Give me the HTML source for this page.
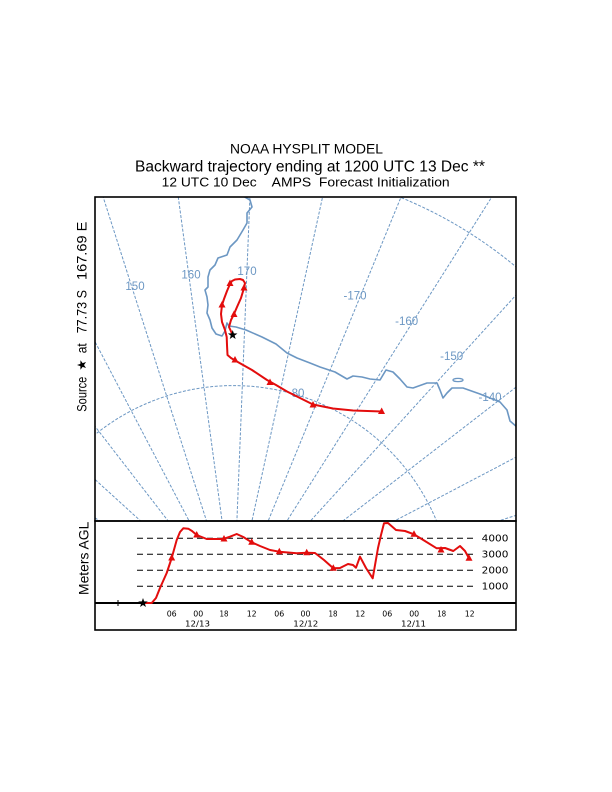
<!DOCTYPE html>
<html>
<head>
<meta charset="utf-8">
<style>
html,body{margin:0;padding:0;background:#fff;width:612px;height:792px;overflow:hidden;}
svg{display:block;position:absolute;left:0;top:0;}
.s{font-family:"Liberation Sans", Arial, sans-serif;}
.d{font-family:"DejaVu Sans", "Liberation Sans", sans-serif;}
</style>
</head>
<body>
<svg width="612" height="792" viewBox="0 0 612 792" xmlns="http://www.w3.org/2000/svg">
<rect x="0" y="0" width="612" height="792" fill="#fff"/>

<!-- Titles -->
<g class="s" fill="#000">
  <text x="230" y="153.3" font-size="13.5" textLength="153" lengthAdjust="spacingAndGlyphs">NOAA HYSPLIT MODEL</text>
  <text x="135" y="171.3" font-size="15.5" textLength="350" lengthAdjust="spacingAndGlyphs">Backward trajectory ending at 1200 UTC 13 Dec **</text>
  <text x="161.7" y="186.7" font-size="13.2" textLength="95" lengthAdjust="spacingAndGlyphs">12 UTC 10 Dec</text>
  <text x="271.7" y="186.7" font-size="13.2" textLength="178" lengthAdjust="spacingAndGlyphs" xml:space="preserve">AMPS  Forecast Initialization</text>
</g>

<!-- Left vertical labels -->
<g class="s" fill="#000" font-size="13.5">
  <g transform="translate(86.7,0) rotate(-90)">
    <text x="-411.7" y="0" textLength="35" lengthAdjust="spacingAndGlyphs">Source</text>
    <text x="-353.3" y="0" textLength="10" lengthAdjust="spacingAndGlyphs">at</text>
    <text x="-333.3" y="0" textLength="43.3" lengthAdjust="spacingAndGlyphs">77.73 S</text>
    <text x="-280" y="0" textLength="58.3" lengthAdjust="spacingAndGlyphs">167.69 E</text>
  </g>
  <g transform="translate(88.3,0) rotate(-90)">
    <text x="-595" y="0" textLength="73.3" lengthAdjust="spacingAndGlyphs">Meters AGL</text>
  </g>
</g>
<polygon transform="translate(82,365) rotate(-90)" fill="#000" points="0,-5 1.176,-1.618 4.755,-1.545 1.902,0.618 2.939,4.045 0,2 -2.939,4.045 -1.902,0.618 -4.755,-1.545 -1.176,-1.618"/>

<defs>
  <clipPath id="mapclip"><rect x="95" y="197" width="421" height="324"/></clipPath>
</defs>

<!-- Map -->
<g clip-path="url(#mapclip)">
  <g stroke="#6c97c3" stroke-width="1" fill="none" stroke-dasharray="3,1.6">
    <line x1="233.5" y1="605.5" x2="-358.2" y2="231.4"/>
    <line x1="233.5" y1="605.5" x2="-284.2" y2="134.4"/>
    <line x1="233.5" y1="605.5" x2="-194.6" y2="51.7"/>
    <line x1="233.5" y1="605.5" x2="-91.9" y2="-14.3"/>
    <line x1="233.5" y1="605.5" x2="20.7" y2="-61.4"/>
    <line x1="233.5" y1="605.5" x2="139.7" y2="-88.2"/>
    <line x1="233.5" y1="605.5" x2="261.6" y2="-93.9"/>
    <line x1="233.5" y1="605.5" x2="382.6" y2="-78.4"/>
    <line x1="233.5" y1="605.5" x2="499.1" y2="-42.1"/>
    <line x1="233.5" y1="605.5" x2="607.6" y2="13.8"/>
    <line x1="233.5" y1="605.5" x2="704.6" y2="87.8"/>
    <line x1="233.5" y1="605.5" x2="787.3" y2="177.5"/>
    <line x1="233.5" y1="605.5" x2="853.3" y2="280.1"/>
    <line x1="233.5" y1="605.5" x2="900.4" y2="392.7"/>
    <path d="M13.5,605.5 A220,220 0 0 1 453.5,605.5"/>
    <path d="M-207.5,605.5 A441,441 0 0 1 674.5,605.5"/>
  </g>
  <path fill="none" stroke="#6c97c3" stroke-width="1.6" stroke-linejoin="round"
    d="M243,196 L250,200 L252,207 L247,213 L247,223 L243,230 L237,240 L230,247 L227,255 L218,258 L215,265 L210,270 L208,277 L208,287 L205,290 L207,297 L208,305 L207,313 L210,320 L212,328 L216,334 L222,336 L225,331 L227,323 L229,326 L236,327 L246,330 L262,337 L276,344 L287,353 L297,358 L310,363 L320,367 L335,372 L347,379 L353,376 L362,377 L370,379 L380,380 L386,370 L393,372 L400,379 L407,387 L413,388 L427,383 L437,383 L440,390 L443,398 L447,393 L452,388 L463,388 L480,394 L500,402 L507,410 L510,421 L517,427"/>
  <ellipse cx="458" cy="380" rx="5" ry="1.6" fill="none" stroke="#6c97c3" stroke-width="1.3"/>
  <g class="s" font-size="11.5" fill="#6c97c3" text-anchor="middle">
    <text x="135" y="290">150</text>
    <text x="191" y="278.3">160</text>
    <text x="247" y="275">170</text>
    <text x="355" y="299.5">-170</text>
    <text x="406.7" y="325">-160</text>
    <text x="451.7" y="360">-150</text>
    <text x="490" y="401">-140</text>
    <text x="298" y="397">80</text>
  </g>
  <path fill="none" stroke="#e30d0d" stroke-width="2" stroke-linejoin="round"
    d="M232.7,335 L229,327 L231,320 L234,314 L237,307 L241,298 L244,288 L245,283 L243,280 L240,279 L235,279.5 L232,281 L230,284 L227,291 L224,299 L222,305 L221,314 L222,322 L225,330 L226.7,337 L227,345 L227.5,355 L231,358 L236,361 L252,370 L267,380 L276,385 L287,391.5 L300,398 L313,404.5 L333,408.5 L353,410.5 L381.7,411.5"/>
  <g fill="#e30d0d">
    <polygon points="230.5,317 237.5,317 234,310.5"/>
    <polygon points="240.5,290.5 247.5,290.5 244,284"/>
    <polygon points="226.5,286 233.5,286 230,279.5"/>
    <polygon points="218.5,307.5 225.5,307.5 222,301"/>
    <polygon points="231.5,362.5 238.5,362.5 235,356"/>
    <polygon points="266.5,385 273.5,385 270,378.5"/>
    <polygon points="309.5,407.5 316.5,407.5 313,401"/>
    <polygon points="378,414 385,414 381.7,407.5"/>
  </g>
  <polygon transform="translate(232.7,335)" fill="#000" points="0,-5 1.176,-1.618 4.755,-1.545 1.902,0.618 2.939,4.045 0,2 -2.939,4.045 -1.902,0.618 -4.755,-1.545 -1.176,-1.618"/>
</g>
<rect x="95" y="197" width="421" height="324" fill="none" stroke="#000" stroke-width="1.6"/>

<!-- Lower panel -->
<rect x="95" y="521" width="421" height="109" fill="none" stroke="#000" stroke-width="1.6"/>
<g stroke="#000" stroke-width="1" stroke-dasharray="6,4">
  <line x1="137" y1="538.3" x2="474" y2="538.3"/>
  <line x1="137" y1="554.3" x2="474" y2="554.3"/>
  <line x1="137" y1="570.2" x2="474" y2="570.2"/>
  <line x1="137" y1="586.2" x2="474" y2="586.2"/>
</g>
<line x1="95" y1="603" x2="516" y2="603" stroke="#000" stroke-width="2"/>
<line x1="118" y1="600" x2="118" y2="606" stroke="#000" stroke-width="1"/>

<g class="d" fill="#000" font-size="9.5">
  <text x="481.7" y="541.7" textLength="26.7" lengthAdjust="spacingAndGlyphs">4000</text>
  <text x="481.7" y="557.7" textLength="26.7" lengthAdjust="spacingAndGlyphs">3000</text>
  <text x="481.7" y="573.6" textLength="26.7" lengthAdjust="spacingAndGlyphs">2000</text>
  <text x="481.7" y="589.6" textLength="26.7" lengthAdjust="spacingAndGlyphs">1000</text>
</g>
<g class="d" fill="#000" font-size="8.3">
  <text x="166.7" y="616.5" textLength="10" lengthAdjust="spacingAndGlyphs">06</text>
  <text x="193.3" y="616.5" textLength="10" lengthAdjust="spacingAndGlyphs">00</text>
  <text x="219.5" y="616.5" textLength="9" lengthAdjust="spacingAndGlyphs">18</text>
  <text x="246.7" y="616.5" textLength="10" lengthAdjust="spacingAndGlyphs">12</text>
  <text x="274.3" y="616.5" textLength="10" lengthAdjust="spacingAndGlyphs">06</text>
  <text x="300.5" y="616.5" textLength="10" lengthAdjust="spacingAndGlyphs">00</text>
  <text x="328.5" y="616.5" textLength="9" lengthAdjust="spacingAndGlyphs">18</text>
  <text x="355.3" y="616.5" textLength="10" lengthAdjust="spacingAndGlyphs">12</text>
  <text x="382.3" y="616.5" textLength="10" lengthAdjust="spacingAndGlyphs">06</text>
  <text x="409.2" y="616.5" textLength="10" lengthAdjust="spacingAndGlyphs">00</text>
  <text x="437.2" y="616.5" textLength="9" lengthAdjust="spacingAndGlyphs">18</text>
  <text x="464.7" y="616.5" textLength="10" lengthAdjust="spacingAndGlyphs">12</text>
  <text x="185" y="626.7" textLength="25" lengthAdjust="spacingAndGlyphs">12/13</text>
  <text x="293.3" y="626.7" textLength="25" lengthAdjust="spacingAndGlyphs">12/12</text>
  <text x="401" y="626.7" textLength="25" lengthAdjust="spacingAndGlyphs">12/11</text>
</g>

<path fill="none" stroke="#e30d0d" stroke-width="2" stroke-linejoin="round"
  d="M143,603 L151.7,603 L156,598 L160,588 L166.7,573 L171.7,558 L176.7,540 L180,532 L183.3,528.3 L188.3,528.7 L192,531 L196.7,535 L206.7,539 L223.3,539 L230,536.7 L236.7,534 L243.3,537 L251.7,542.3 L260,546 L270,550 L279.3,551.7 L296.7,553.3 L306.7,552.7 L315,553 L324,560 L333.3,568.3 L340,568 L348,564 L353,565 L356,567.7 L360,556.7 L366,568 L372.7,578.3 L378,548 L381,535 L384,523.3 L388,523 L396,530 L405,531 L414,534.3 L423.3,540 L436.7,548.3 L445,548 L453.3,551 L460,546 L465,551 L469,558.3"/>
<g fill="#e30d0d">
  <polygon points="168.2,560.5 175.2,560.5 171.7,554"/>
  <polygon points="193.2,537.5 200.2,537.5 196.7,531"/>
  <polygon points="220.5,541.5 227.5,541.5 224,535"/>
  <polygon points="248.2,544.8 255.2,544.8 251.7,538.3"/>
  <polygon points="275.8,554.2 282.8,554.2 279.3,547.7"/>
  <polygon points="303.2,555.2 310.2,555.2 306.7,548.7"/>
  <polygon points="329.8,570.8 336.8,570.8 333.3,564.3"/>
  <polygon points="410.5,536.8 417.5,536.8 414,530.3"/>
  <polygon points="437.5,552.5 444.5,552.5 441,546"/>
  <polygon points="465.5,560.8 472.5,560.8 469,554.3"/>
</g>
<polygon transform="translate(143,603)" fill="#000" points="0,-5 1.176,-1.618 4.755,-1.545 1.902,0.618 2.939,4.045 0,2 -2.939,4.045 -1.902,0.618 -4.755,-1.545 -1.176,-1.618"/>

</svg>
</body>
</html>
